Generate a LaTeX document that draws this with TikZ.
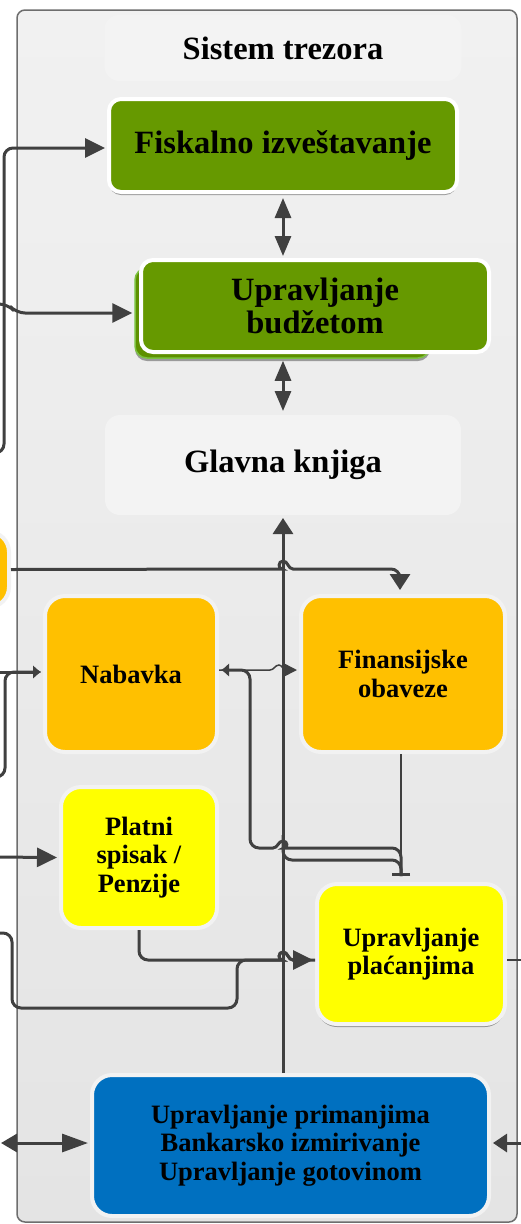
\documentclass[tikz,border=0pt]{standalone}
\usepackage{fontspec}
\setmainfont{Liberation Serif}
\usetikzlibrary{arrows.meta, shadows}

\definecolor{linegray}{HTML}{404040}
\definecolor{framegray}{HTML}{6E6E6E}
\definecolor{paneltop}{HTML}{F1F1F1}
\definecolor{panelbottom}{HTML}{E4E4E4}
\definecolor{boxrim}{HTML}{F2F2F2}
\definecolor{treegreen}{HTML}{669900}
\definecolor{greenback}{HTML}{5E9000}
\definecolor{greenedge}{HTML}{7CC241}
\definecolor{ledgergray}{HTML}{F3F3F3}
\definecolor{procorange}{HTML}{FFC000}
\definecolor{payyellow}{HTML}{FFFF00}
\definecolor{cashblue}{HTML}{0070C0}

\tikzset{
    procbox/.style = {rounded corners=20pt, draw=boxrim, line width=4pt, align=center,
        inner sep=0pt, font=\fontsize{26.5}{28.5}\selectfont\bfseries},
    headbox/.style = {procbox, rounded corners=12pt, draw=white,
        font=\fontsize{32.5}{33}\selectfont\bfseries},
    shade/.style = {drop shadow={shadow xshift=0pt, shadow yshift=-3pt, opacity=0.35, fill=black}},
    link/.style = {draw=linegray, line width=3pt, rounded corners=9pt},
    thinlink/.style = {draw=linegray, line width=1.5pt},
    bighead/.style = {-{Triangle[length=20pt,width=19pt]}, shorten >=2pt},
    smallhead/.style = {-{Latex[length=8pt,width=14pt]}, shorten >=2pt}
}

\begin{document}
\begin{tikzpicture}[x=1pt, y=-1pt]

    \useasboundingbox (0,0) rectangle (520,1224);
    \fill [white] (0,0) rectangle (520,1224);
    \draw [framegray, line width=1.5pt, rounded corners=8pt, top color=paneltop,
        bottom color=panelbottom] (17,10) rectangle (517,1222);

    \node (title) [fill=white, fill opacity=0.2, text opacity=1, rounded corners=15pt,
        minimum width=357pt, minimum height=66pt, font=\fontsize{32.5}{33}\selectfont\bfseries]
        at (283,48) {Sistem trezora};

    \node (budgback) [fill=greenback, draw=greenedge, line width=1.5pt, rounded corners=12pt,
        minimum width=295pt, minimum height=90pt, shade] at (282.5,313) {};
    \node (fisk) [headbox, fill=treegreen, minimum width=348pt, minimum height=93pt, shade]
        at (283,145.5) {Fiskalno izveštavanje};
    \node (budg) [headbox, fill=treegreen, minimum width=348pt, minimum height=92pt]
        at (315,306) {Upravljanje\\budžetom};
    \node (glavna) [headbox, fill=ledgergray, draw=none, rounded corners=15pt,
        minimum width=356pt, minimum height=100pt] at (283,465) {Glavna knjiga};

    \node (outside) [procbox, fill=procorange, minimum width=40pt, minimum height=75pt]
        at (-11,569.5) {};
    \node (nab) [procbox, fill=procorange, minimum width=172pt, minimum height=156pt]
        at (131,674) {Nabavka};
    \node (fin) [procbox, fill=procorange, minimum width=204pt, minimum height=156pt]
        at (403,674) {Finansijske\\obaveze};
    \node (platni) [procbox, fill=payyellow, minimum width=156pt, minimum height=141pt]
        at (139,857.5) {Platni\\spisak /\\Penzije};
    \node (plac) [procbox, fill=payyellow, minimum width=188pt, minimum height=140pt, shade]
        at (411,954) {Upravljanje\\plaćanjima};
    \node (cash) [procbox, fill=cashblue, minimum width=397pt, minimum height=141pt]
        at (290.5,1145.5) {Upravljanje primanjima\\Bankarsko izmirivanje\\Upravljanje gotovinom};

    \coordinate (fiskfrom) at (-10,453); \coordinate (budgfrom) at (-10,304);
    \coordinate (nabfrom) at (-10,672); \coordinate (nabfrom2) at (-10,777);
    \coordinate (platnifrom) at (-10,857); \coordinate (placfrom) at (-10,933);
    \coordinate (placto) at (530,960); \coordinate (brk) at (283,835);
    \coordinate (cashfrom) at (1,1143); \coordinate (cashfrom2) at (530,1143);

    \draw [link, -{Triangle[length=16pt,width=20pt]}, shorten >=1pt]
        (glavna.south |- cash.north) -- (glavna.south);

    \draw [link, {Triangle[length=20pt,width=16pt]}-{Triangle[length=20pt,width=16pt]},
        shorten <=4pt, shorten >=2pt] (fisk.south) -- (fisk.south |- budg.north);
    \draw [link, {Triangle[length=20pt,width=16pt]}-{Triangle[length=20pt,width=16pt]},
        shorten <=2pt, shorten >=2pt] (fisk.south |- budgback.south) -- (glavna.north);

    \draw [link, bighead] (fiskfrom) -- (4,453) -- (4,148) -- ([yshift=-2.5pt]fisk.west);
    \draw [link, bighead] (budgfrom) -- (8,304) -- (16,313) -- (budgback.west);

    \draw [link, -{Triangle[length=16pt,width=20pt]}, shorten >=4pt] (outside.east)
        -- (273,569) [sharp corners] .. controls (278,569) and (278,561) .. (283,561)
        .. controls (288,561) and (288,569) .. (293,569) [rounded corners=9pt]
        -- (400,569) -- ([xshift=-3pt]fin.north);

    \draw [link, smallhead] (nabfrom) -- ([yshift=2pt]nab.west);
    \draw [link, smallhead] (nabfrom2) -- (5,777) -- (5,672) -- ([yshift=2pt]nab.west);

    \draw [thinlink, -{Triangle[length=12pt,width=12pt]}, shorten >=2pt] ([yshift=4pt]nab.east)
        -- (270,670) .. controls (274,670) and (275,665) .. (279,665)
        .. controls (282,665) and (283,670) .. (286,670) -- ([yshift=4pt]fin.west);

    \draw [link, smallhead, shorten <=6pt] ([xshift=-10pt]plac.north) -- (401,848)
        -- (293,848) [sharp corners] .. controls (288,848) and (288,841) .. (283,841)
        .. controls (278,841) and (278,848) .. (273,848) [rounded corners=9pt]
        -- (250,848) -- (250,670) -- ([yshift=4pt]nab.east);
    \draw [link, shorten >=6pt] (brk) -- (283,860) -- (401,860) -- ([xshift=-10pt]plac.north);
    \draw [thinlink, -{Bar[width=18pt, line width=3pt]}, shorten >=6pt]
        ([xshift=-2pt]fin.south) -- ([xshift=-10pt]plac.north);

    \draw [link, bighead] (platnifrom) -- (platni.west);
    \draw [link, bighead] (platni.south) -- (139,960) -- (273,960)
        [sharp corners] .. controls (278,960) and (278,952) .. (283,952)
        .. controls (288,952) and (288,960) .. (293,960) -- ([yshift=-6pt]plac.west);
    \draw [link] (placfrom) -- (12,933) -- (12,1008) -- (237,1008) -- (237,960)
        -- (273,960) [sharp corners] .. controls (278,960) and (278,952) .. (283,952)
        .. controls (288,952) and (288,960) .. (293,960) -- ([yshift=-6pt]plac.west);
    \draw [thinlink] ([yshift=-6pt]plac.east) -- (placto);

    \draw [link, {Triangle[length=16pt,width=18pt]}-{Triangle[length=26pt,width=18pt]},
        shorten >=2pt] (cashfrom) -- ([yshift=2.5pt]cash.west);
    \draw [link, -{Triangle[length=14pt,width=18pt]}, shorten >=2pt]
        (cashfrom2) -- ([yshift=2.5pt]cash.east);

\end{tikzpicture}
\end{document}
